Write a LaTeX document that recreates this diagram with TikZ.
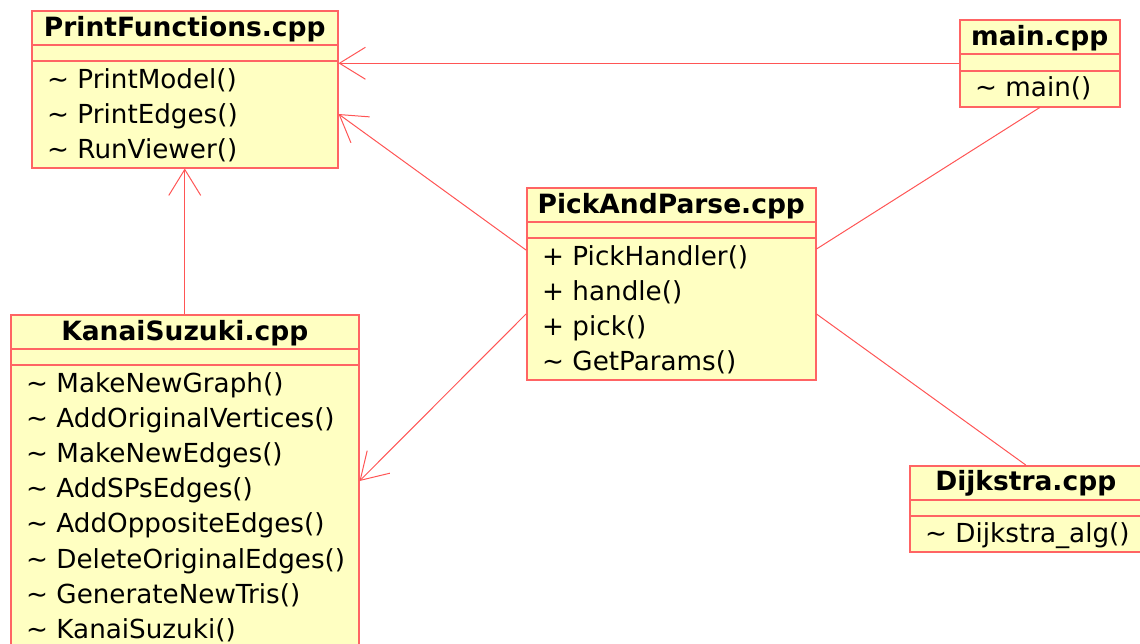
\documentclass[tikz,border=0pt]{standalone}
\usepackage{fontspec}
\setmainfont{DejaVu Sans}
\usetikzlibrary{arrows.meta,calc}
\definecolor{umlborder}{RGB}{255,100,100}
\definecolor{umlline}{RGB}{255,85,85}
\definecolor{umlfill}{RGB}{255,255,194}
\begin{document}
\begin{tikzpicture}[x=1pt,y=-1pt,
  classbox/.style={draw=umlborder, fill=umlfill, line width=1.5pt, rectangle, inner sep=0pt, anchor=north west},
  title/.style={anchor=base, inner sep=0pt, font=\fontsize{26.5}{30}\selectfont\bfseries},
  member/.style={anchor=base west, inner sep=0pt, font=\fontsize{26.2}{30}\selectfont},
  sep/.style={draw=umlborder, line width=1.3pt},
  dep/.style={draw=umlline, line width=1pt, -{Straight Barb[length=26pt,width=32pt]}},
  assoc/.style={draw=umlline, line width=1pt}]
\useasboundingbox (0,0) rectangle (1140,643);

% PrintFunctions.cpp
\node[classbox, minimum width=306pt, minimum height=157pt] (pf) at (31,10) {};
\draw[sep] ($(pf.north west)+(0,35)$) -- ($(pf.north east)+(0,35)$);
\draw[sep] ($(pf.north west)+(0,51)$) -- ($(pf.north east)+(0,51)$);
\node[title] (pft) at ($(pf.north)+(0,26)$) {PrintFunctions.cpp};
\node[member] (pf1) at ($(pf.north west)+(16,78)$) {\textasciitilde{} PrintModel()};
\node[member] (pf2) at ($(pf.north west)+(16,113)$) {\textasciitilde{} PrintEdges()};
\node[member] (pf3) at ($(pf.north west)+(16,148)$) {\textasciitilde{} RunViewer()};

% main.cpp
\node[classbox, minimum width=160pt, minimum height=87pt] (mn) at (959,19) {};
\draw[sep] ($(mn.north west)+(0,35)$) -- ($(mn.north east)+(0,35)$);
\draw[sep] ($(mn.north west)+(0,52)$) -- ($(mn.north east)+(0,52)$);
\node[title] (mnt) at ($(mn.north)+(0,26)$) {main.cpp};
\node[member] (mn1) at ($(mn.north west)+(16,77)$) {\textasciitilde{} main()};

% PickAndParse.cpp
\node[classbox, minimum width=289pt, minimum height=192pt] (pp) at (526,187) {};
\draw[sep] ($(pp.north west)+(0,35)$) -- ($(pp.north east)+(0,35)$);
\draw[sep] ($(pp.north west)+(0,51)$) -- ($(pp.north east)+(0,51)$);
\node[title] (ppt) at ($(pp.north)+(0,26)$) {PickAndParse.cpp};
\node[member] (pp1) at ($(pp.north west)+(16,78)$) {+ PickHandler()};
\node[member] (pp2) at ($(pp.north west)+(16,113)$) {+ handle()};
\node[member] (pp3) at ($(pp.north west)+(16,148)$) {+ pick()};
\node[member] (pp4) at ($(pp.north west)+(16,183)$) {\textasciitilde{} GetParams()};

% KanaiSuzuki.cpp
\node[classbox, minimum width=348pt, minimum height=346pt] (ks) at (10,314) {};
\draw[sep] ($(ks.north west)+(0,35)$) -- ($(ks.north east)+(0,35)$);
\draw[sep] ($(ks.north west)+(0,51)$) -- ($(ks.north east)+(0,51)$);
\node[title] (kst) at ($(ks.north)+(0,26)$) {KanaiSuzuki.cpp};
\node[member] (ks1) at ($(ks.north west)+(16,78)$) {\textasciitilde{} MakeNewGraph()};
\node[member] (ks2) at ($(ks.north west)+(16,113.2)$) {\textasciitilde{} AddOriginalVertices()};
\node[member] (ks3) at ($(ks.north west)+(16,148.4)$) {\textasciitilde{} MakeNewEdges()};
\node[member] (ks4) at ($(ks.north west)+(16,183.6)$) {\textasciitilde{} AddSPsEdges()};
\node[member] (ks5) at ($(ks.north west)+(16,218.8)$) {\textasciitilde{} AddOppositeEdges()};
\node[member] (ks6) at ($(ks.north west)+(16,254)$) {\textasciitilde{} DeleteOriginalEdges()};
\node[member] (ks7) at ($(ks.north west)+(16,289.2)$) {\textasciitilde{} GenerateNewTris()};
\node[member] (ks8) at ($(ks.north west)+(16,324.4)$) {\textasciitilde{} KanaiSuzuki()};

% Dijkstra.cpp
\node[classbox, minimum width=232pt, minimum height=86pt] (dj) at (909,465) {};
\draw[sep] ($(dj.north west)+(0,35)$) -- ($(dj.north east)+(0,35)$);
\draw[sep] ($(dj.north west)+(0,51)$) -- ($(dj.north east)+(0,51)$);
\node[title] (djt) at ($(dj.north)+(0,25)$) {Dijkstra.cpp};
\node[member] (dj1) at ($(dj.north west)+(16,77)$) {\textasciitilde{} Dijkstra\_alg()};

% connectors
\draw[dep] (mn.west) -- (pf.east |- mn.west);
\draw[dep] ($(pp.north west)+(0,63)$) -- ($(pf.north east)+(0,104)$);
\draw[dep] (ks.north) -- (pf.south);
\draw[dep] ($(pp.north west)+(0,127)$) -- ($(ks.north east)+(0,167)$);
\draw[assoc] ($(pp.north east)+(0,62)$) -- (mn.south);
\draw[assoc] ($(pp.north east)+(0,127)$) -- (dj.north);
\end{tikzpicture}
\end{document}
